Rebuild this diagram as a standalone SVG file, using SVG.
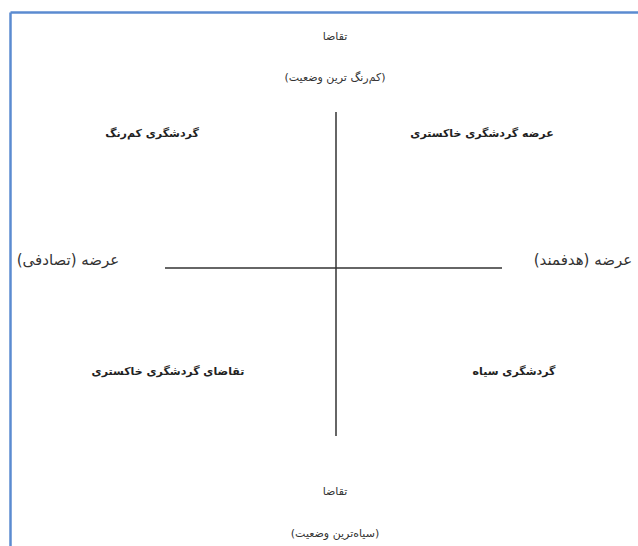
<svg xmlns="http://www.w3.org/2000/svg" width="638" height="546" viewBox="0 0 638 546">
<style>
.t{font-family:"DejaVu Sans","Noto Sans",sans-serif;fill:#333;text-anchor:middle;direction:rtl}
.s{font-size:11px}
.b{font-size:11px;font-weight:bold;fill:#222}
.m{font-size:15px}
.ax{stroke:#333;stroke-width:1.5;fill:none}
</style>
<rect width="638" height="546" fill="#fff"/>
<g id="frame">
<line x1="10.5" y1="12.5" x2="638" y2="12.5" stroke="#5b8bd0" stroke-width="2.5"/>
<line x1="10.5" y1="12.5" x2="10.5" y2="546" stroke="#5b8bd0" stroke-width="2.5"/>
</g>
<g id="connectors">
<line class="ax" x1="336" y1="112" x2="336" y2="436"/>
<line class="ax" x1="165" y1="268" x2="502" y2="268"/>
</g>
<g id="top"><text class="t s" x="335" y="40">تقاضا</text><text class="t s" x="335" y="81">(کم‌رنگ ترین وضعیت)</text></g>
<g id="q1"><text class="t b" x="152" y="137">گردشگری کم‌رنگ</text></g>
<g id="q2"><text class="t b" x="482" y="137">عرضه گردشگری خاکستری</text></g>
<g id="left"><text class="t m" x="68" y="265">عرضه (تصادفی)</text></g>
<g id="right"><text class="t m" x="583" y="265">عرضه (هدفمند)</text></g>
<g id="q3"><text class="t b" x="168" y="375">تقاضای گردشگری خاکستری</text></g>
<g id="q4"><text class="t b" x="514" y="375">گردشگری سیاه</text></g>
<g id="bottom"><text class="t s" x="335" y="495">تقاضا</text><text class="t s" x="335" y="537">(سیاه‌ترین وضعیت)</text></g>
</svg>
